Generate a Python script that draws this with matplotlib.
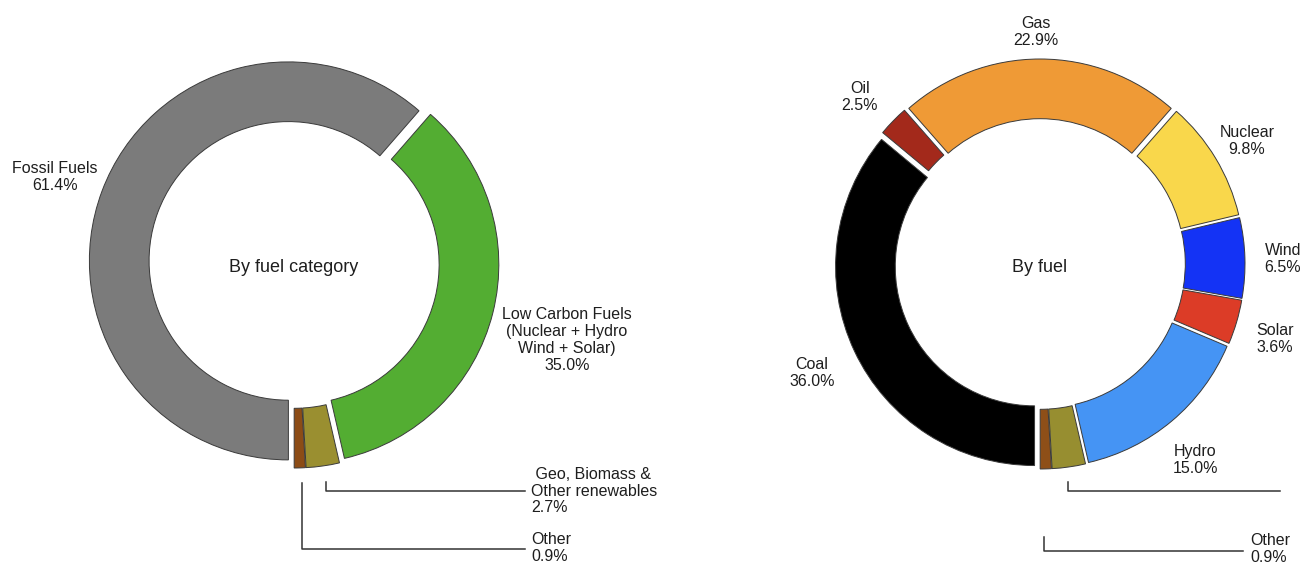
import matplotlib
matplotlib.use("Agg")
import matplotlib.pyplot as plt

plt.rcParams['font.family'] = ['Liberation Sans', 'DejaVu Sans']

# ---- data ----
cat_labels = ['Other', 'Geo, Biomass &\nOther renewables', 'Low Carbon Fuels', 'Fossil Fuels']
cat_values = [0.9, 2.7, 35.0, 61.4]
cat_colors = ['#8c4c16', '#9a8f30', '#53ad32', '#7b7b7b']

fuel_labels = ['Other', 'Geo', 'Hydro', 'Solar', 'Wind', 'Nuclear', 'Gas', 'Oil', 'Coal']
fuel_values = [0.9, 2.7, 15.0, 3.6, 6.5, 9.8, 22.9, 2.5, 36.0]
fuel_colors = ['#8e4f18', '#978e30', '#4594f4', '#dc3c27', '#1433f5',
               '#f9d74b', '#ef9a36', '#a3291b', '#000000']

W, H = 1303, 568
fig = plt.figure(figsize=(W / 100, H / 100), dpi=100)
ax = fig.add_axes([0, 0, 1, 1])


def Y(y):
    # image pixel row -> data y
    return H - y


R = 199
gap = 6  # explode offset in pixels (pie uses absolute units)
wprops = dict(width=R * 0.3, edgecolor='#3a3a3a', linewidth=0.7)

ax.pie(cat_values, colors=cat_colors, startangle=270, counterclock=True,
       center=(294, Y(263)), radius=R, explode=[gap] * len(cat_values),
       wedgeprops=wprops)
ax.pie(fuel_values, colors=fuel_colors, startangle=270, counterclock=True,
       center=(1040, Y(264)), radius=R, explode=[gap] * len(fuel_values),
       wedgeprops=wprops)

ax.set_xlim(0, W)
ax.set_ylim(0, H)
ax.set_aspect('equal')
ax.axis('off')

tc = '#1e1e1e'
fs = 11.5
lc = '#333333'


def pct(v):
    return '%.1f%%' % v


# centre titles
ax.text(294, Y(268), 'By fuel category', ha='center', va='center', fontsize=13, color=tc)
ax.text(1040, Y(268), 'By fuel', ha='center', va='center', fontsize=13, color=tc)

# left labels
ax.text(55, Y(177), cat_labels[3] + '\n' + pct(cat_values[3]), ha='center', va='center',
        fontsize=fs, color=tc, linespacing=1.15)
ax.text(567, Y(340), cat_labels[2] + '\n(Nuclear + Hydro\nWind + Solar)\n' + pct(cat_values[2]),
        ha='center', va='center', fontsize=fs, color=tc, linespacing=1.15)
ax.text(531, Y(491), ' ' + cat_labels[1] + '\n' + pct(cat_values[1]), ha='left', va='center',
        fontsize=fs, color=tc, linespacing=1.15)
ax.text(531, Y(548), cat_labels[0] + '\n' + pct(cat_values[0]), ha='left', va='center',
        fontsize=fs, color=tc, linespacing=1.15)
ax.plot([326, 326, 525], [Y(482), Y(491), Y(491)], color=lc, lw=1.1)
ax.plot([302, 302, 525], [Y(483), Y(549), Y(549)], color=lc, lw=1.1)

# right labels
right_pos = {
    'Gas': (1036, 32), 'Oil': (860, 97), 'Nuclear': (1247, 141), 'Wind': (1283, 259),
    'Solar': (1275, 339), 'Hydro': (1195, 460), 'Coal': (812, 373),
}
for name, val in zip(fuel_labels, fuel_values):
    if name in right_pos:
        x, y = right_pos[name]
        ax.text(x, Y(y), name + '\n' + pct(val), ha='center', va='center',
                fontsize=fs, color=tc, linespacing=1.15)
ax.text(1250, Y(549), fuel_labels[0] + '\n' + pct(fuel_values[0]), ha='left', va='center',
        fontsize=fs, color=tc, linespacing=1.15)
ax.plot([1068, 1068, 1280], [Y(482), Y(491), Y(491)], color=lc, lw=1.1)
ax.plot([1044, 1044, 1243], [Y(537), Y(551), Y(551)], color=lc, lw=1.1)

fig.savefig('out.png', dpi=100, facecolor='white')
